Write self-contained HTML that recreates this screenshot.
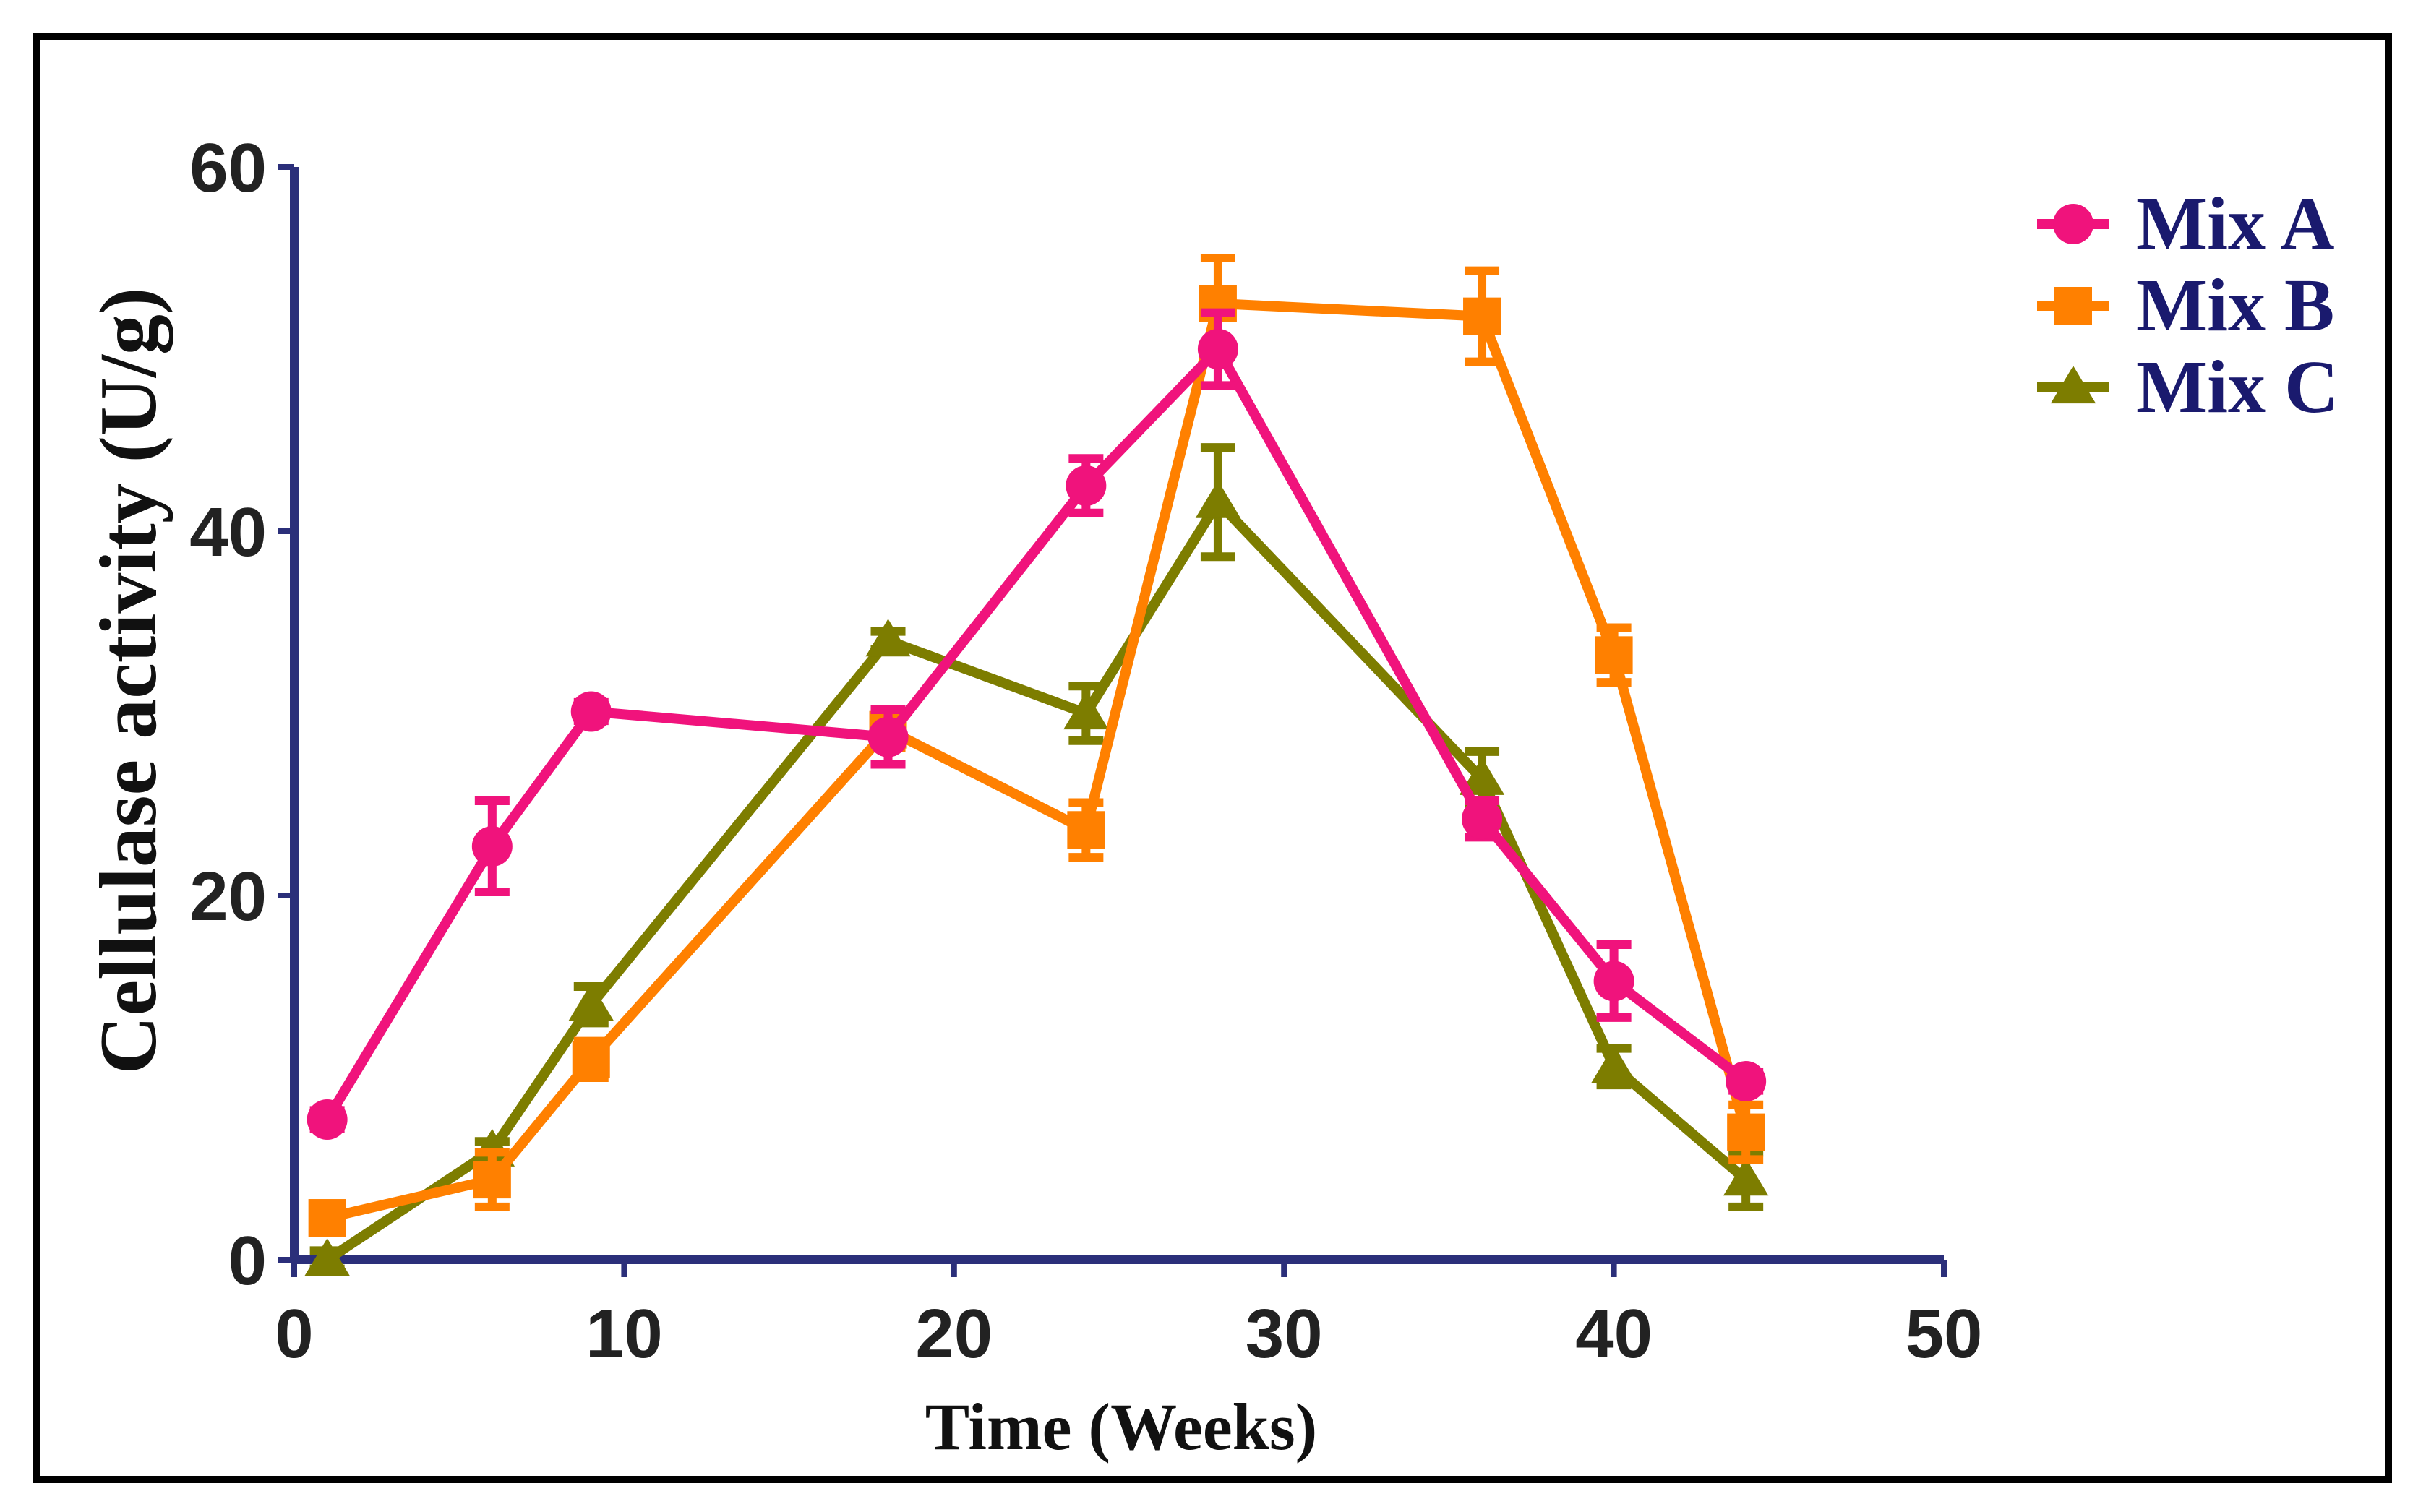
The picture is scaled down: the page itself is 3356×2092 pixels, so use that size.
<!DOCTYPE html>
<html><head><meta charset="utf-8"><style>
html,body{margin:0;padding:0;background:#fff;}
svg{display:block;}
</style></head><body>
<svg id="chart" width="3356" height="2092" viewBox="0 0 3356 2092" xmlns="http://www.w3.org/2000/svg">
<rect x="50" y="50" width="3254" height="1997" fill="none" stroke="#000" stroke-width="10"/>
<g id="axes"></g>
<g id="series"></g>
<g id="legend"></g>
<text x="1551" y="2005" text-anchor="middle" font-family="Liberation Serif, serif" font-weight="bold" font-size="92" fill="#111">Time (Weeks)</text>
<text transform="translate(215,942) rotate(-90)" text-anchor="middle" font-family="Liberation Serif, serif" font-weight="bold" font-size="112" fill="#111">Cellulase activity (U/g)</text>
</svg>
<script>
const weeks = [1, 6, 9, 18, 24, 28, 36, 40, 44];
const mixA = [7.7, 22.7, 30.1, 28.7, 42.5, 50, 24.2, 15.3, 9.8];
const mixAErr = [0.5, 2.5, 0.5, 1.5, 1.5, 2, 1, 2, 0.5];
const mixB = [2.3, 4.4, 11, 29.1, 23.6, 52.5, 51.8, 33.2, 7];
const mixBErr = [0.5, 1.5, 1, 1, 1.5, 2.5, 2.5, 1.5, 1.5];
const mixC = [0, 6, 14, 34, 30, 41.6, 26.4, 10.6, 4.4];
const mixCErr = [0.5, 0.5, 1, 0.5, 1.5, 3, 1.5, 1, 1.5];
const xTicks = [0, 10, 20, 30, 40, 50];
const yTicks = [0, 20, 40, 60];
const seriesNames = ["Mix A", "Mix B", "Mix C"];

const NS = "http://www.w3.org/2000/svg";
const X0 = 407, X1 = 2689, Y0 = 1743, Y1 = 231;
function xs(v){ return X0 + (v - 0) / 50 * (X1 - X0); }
function ys(v){ return Y0 - (v - 0) / 60 * (Y0 - Y1); }
function mk(tag, attrs, parent){ const e = document.createElementNS(NS, tag); for (const k in attrs) e.setAttribute(k, attrs[k]); parent.appendChild(e); return e; }

const axes = document.getElementById('axes');
const navy = "#2b2f7a";
let yl = mk('line', {x1: X0, y1: ys(60), x2: X0, y2: Y0 + 5, stroke: navy, 'stroke-width': 12}, axes);


let xl = mk('line', {x1: X0 - 5, y1: Y0, x2: xs(50), y2: Y0, stroke: navy, 'stroke-width': 12}, axes);


yTicks.forEach(v => {
  const t = mk('line', {x1: X0 - 22, y1: ys(v), x2: X0, y2: ys(v), stroke: navy, 'stroke-width': 8}, axes);
  
  
  const l = mk('text', {x: X0 - 38, y: ys(v) + 34, 'text-anchor': 'end', 'font-family': 'Liberation Sans, sans-serif', 'font-weight': 'bold', 'font-size': 96, fill: '#222'}, axes);
  l.textContent = v;
  
  
});
xTicks.forEach(v => {
  const t = mk('line', {x1: xs(v), y1: Y0, x2: xs(v), y2: Y0 + 24, stroke: navy, 'stroke-width': 8}, axes);
  
  
  const l = mk('text', {x: xs(v), y: Y0 + 135, 'text-anchor': 'middle', 'font-family': 'Liberation Sans, sans-serif', 'font-weight': 'bold', 'font-size': 96, fill: '#222'}, axes);
  l.textContent = v;
  
  
});

function marker(parent, type, cx, cy, color, s){
  let e;
  if (type === 'circle') e = mk('circle', {cx: cx, cy: cy, r: s, fill: color}, parent);
  else if (type === 'square') e = mk('rect', {x: cx - s, y: cy - s, width: 2*s, height: 2*s, fill: color}, parent);
  else e = mk('polygon', {points: `${cx},${cy - s*1.15} ${cx + s*1.2},${cy + s*0.85} ${cx - s*1.2},${cy + s*0.85}`, fill: color}, parent);
  return e;
}

const sg = document.getElementById('series');
const all = [[mixA, mixAErr, '#f0137c', 'circle', 'mix-a'], [mixB, mixBErr, '#ff8000', 'square', 'mix-b'], [mixC, mixCErr, '#7d7d00', 'triangle', 'mix-c']];
[all[2], all[1], all[0]].forEach(([vals, errs, color, type, name]) => {
  const g = mk('g', {}, sg);
  
  
  const pl = mk('polyline', {points: weeks.map((w, i) => xs(w) + ',' + ys(vals[i])).join(' '), fill: 'none', stroke: color, 'stroke-width': 14, 'stroke-linejoin': 'round'}, g);
  
  
  weeks.forEach((w, i) => {
    const cx = xs(w), hi = ys(vals[i] + errs[i]), lo = ys(vals[i] - errs[i]);
    const eb = mk('path', {d: `M${cx},${hi} L${cx},${lo} M${cx - 24},${hi} L${cx + 24},${hi} M${cx - 24},${lo} L${cx + 24},${lo}`, stroke: color, 'stroke-width': 12, fill: 'none'}, g);
    
    
    const m = marker(g, type, cx, ys(vals[i]), color, type === 'circle' ? 28 : 26);
    
    
  });
});

const lg = document.getElementById('legend');
all.forEach(([vals, errs, color, type, name], i) => {
  const y = 310 + i * 113;
  const ln = mk('line', {x1: 2818, y1: y, x2: 2918, y2: y, stroke: color, 'stroke-width': 14}, lg);
  
  
  const m = marker(lg, type, 2868, y, color, type === 'circle' ? 28 : 26);
  
  
  const t = mk('text', {x: 2955, y: y + 34, 'font-family': 'Liberation Serif, serif', 'font-weight': 'bold', 'font-size': 104, fill: '#1a1a6e'}, lg);
  t.textContent = seriesNames[i];
  
  
});
</script>
</body></html>
